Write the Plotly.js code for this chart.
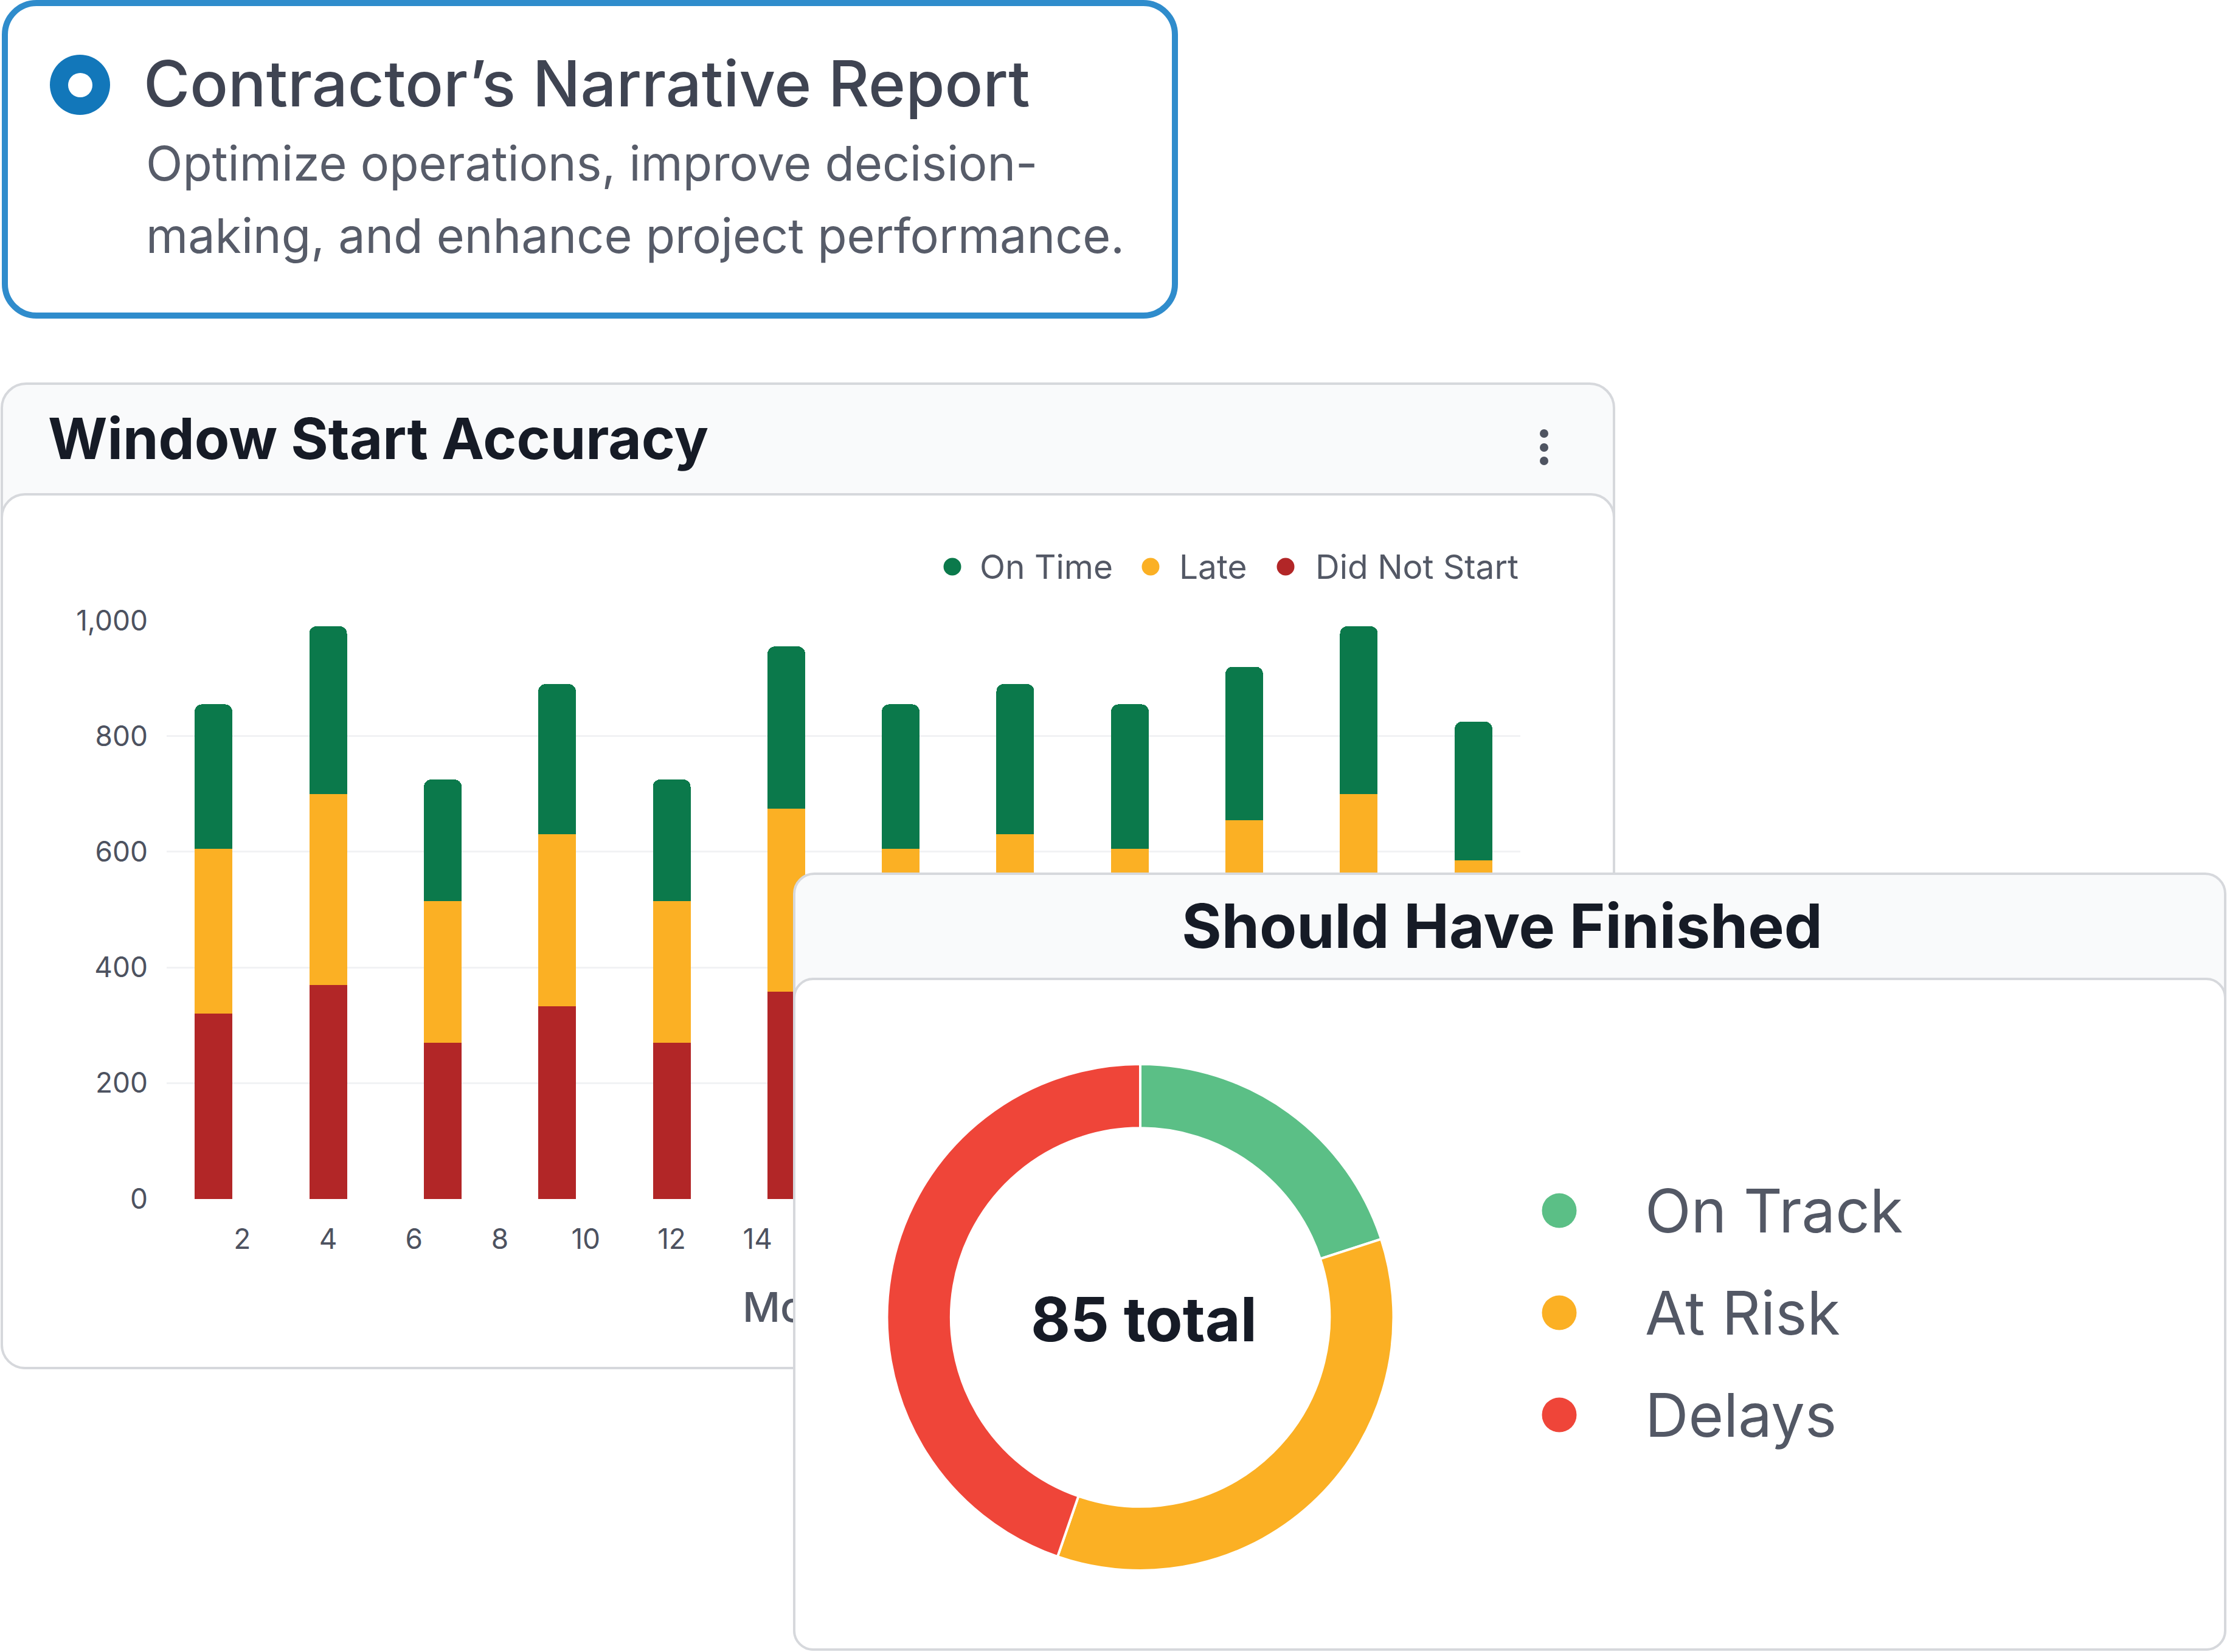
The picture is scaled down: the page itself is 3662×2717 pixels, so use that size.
<!DOCTYPE html>
<html>
<head>
<meta charset="utf-8">
<script src="https://cdn.plot.ly/plotly-3.0.1.min.js"></script>
<style>
html,body{margin:0;padding:0;background:#ffffff;}
#page{position:relative;width:3662px;height:2717px;overflow:hidden;font-family:Inter,"Noto Sans",sans-serif;}
.abs{position:absolute;box-sizing:border-box;}
.txt{position:absolute;white-space:nowrap;line-height:1;}
</style>
</head>
<body>
<div id="page">
  <!-- top card -->
  <div class="abs" style="left:3px;top:0px;width:1934px;height:524px;border:10px solid #2f8ccc;border-radius:57px;background:#fff;"></div>
  <div class="abs" style="left:82px;top:90px;width:99px;height:99px;border-radius:50%;background:#1277ba;"></div>
  <div class="abs" style="left:111.5px;top:119.5px;width:40px;height:40px;border-radius:50%;background:#fff;"></div>
  <div id="mainTitle" class="txt" style="left:236px;top:85px;font-size:104px;font-weight:500;color:#3f4452;"></div>
  <div id="mainSub1" class="txt" style="left:240px;top:229px;font-size:79px;font-weight:400;color:#575c69;"></div>
  <div id="mainSub2" class="txt" style="left:240px;top:348px;font-size:79px;font-weight:400;color:#575c69;"></div>

  <!-- bar card -->
  <div class="abs" style="left:1px;top:629px;width:2655px;height:1623px;border:4px solid #d6d8dc;border-radius:42px;background:#f9fafb;"></div>
  <div class="abs" style="left:1px;top:811px;width:2655px;height:1441px;border:4px solid #d6d8dc;border-radius:40px;background:#ffffff;"></div>
  <div id="barTitle" class="txt" style="left:79px;top:674px;font-size:94px;font-weight:700;color:#161b26;"></div>
  <div class="abs" style="left:2531.7px;top:705.7px;width:14.6px;height:14.6px;border-radius:50%;background:#4f5461;"></div>
  <div class="abs" style="left:2531.7px;top:728.7px;width:14.6px;height:14.6px;border-radius:50%;background:#4f5461;"></div>
  <div class="abs" style="left:2531.7px;top:750.7px;width:14.6px;height:14.6px;border-radius:50%;background:#4f5461;"></div>

  <div id="barChart" class="abs" style="left:0;top:0;width:3662px;height:2717px;"></div>

  <!-- donut card -->
  <div class="abs" style="left:1304px;top:1435px;width:2357px;height:1280px;border:4px solid #d6d8dc;border-radius:35px;background:#f9fafb;"></div>
  <div class="abs" style="left:1304px;top:1608px;width:2357px;height:1107px;border:4px solid #d6d8dc;border-radius:33px;background:#ffffff;"></div>
  <div id="donutTitle" class="txt" style="left:1304px;width:2332px;text-align:center;top:1473px;font-size:100px;font-weight:700;color:#161b26;"></div>

  <div id="donutChart" class="abs" style="left:1304px;top:1435px;width:2357px;height:1280px;"></div>
</div>

<script>
// ---------- text ----------
const mainTitle = "Contractor\u2019s Narrative Report";
const mainSubtitleLines = ["Optimize operations, improve decision-", "making, and enhance project performance."];
const barChartTitle = "Window Start Accuracy";
const donutChartTitle = "Should Have Finished";

// ---------- bar chart data ----------
const monthX = [1.33, 4, 6.67, 9.33, 12, 14.67, 17.33, 20, 22.67, 25.33, 28, 30.67];
const didNotStart = [320, 370, 270, 333, 270, 358, 320, 333, 320, 345, 370, 310];
const late        = [285, 330, 245, 297, 245, 317, 285, 297, 285, 310, 330, 275];
const onTime      = [250, 290, 210, 260, 210, 280, 250, 260, 250, 265, 290, 240];
const seriesNames = ["On Time", "Late", "Did Not Start"];
const xTickVals = [2, 4, 6, 8, 10, 12, 14, 16, 18, 20, 22, 24, 26, 28, 30];
const yTickVals = [0, 200, 400, 600, 800, 1000];
const xAxisTitle = "Month";

// ---------- donut data ----------
const statusLabels = ["On Track", "At Risk", "Delays"];
const statusValues = [17, 30, 38];

// ---------- styles ----------
const barColors = {"On Time": "#0b794b", "Late": "#fbb024", "Did Not Start": "#b22627"};
const statusColors = ["#5bbf86", "#fbb024", "#ef4539"];
const axisTextColor = "#4d5260";
const legendTextColor = "#535865";
const FONT = "Inter, 'Noto Sans', sans-serif";

document.getElementById("mainTitle").textContent = mainTitle;
document.getElementById("mainSub1").textContent = mainSubtitleLines[0];
document.getElementById("mainSub2").textContent = mainSubtitleLines[1];
document.getElementById("barTitle").textContent = barChartTitle;
document.getElementById("donutTitle").textContent = donutChartTitle;

// ---------- bar chart ----------
const W = 3662, H = 2717;
const plotL = 274, plotR = 2500, plotT = 1020, plotB = 1972;
const px2x = px => (px - plotL) / (plotR - plotL);
const py2y = py => (plotB - py) / (plotB - plotT);

const seriesData = {"On Time": onTime, "Late": late, "Did Not Start": didNotStart};
const stackOrder = ["Did Not Start", "Late", "On Time"];
const barTraces = stackOrder.map(name => ({
  type: "bar", name: name, x: monthX, y: seriesData[name],
  marker: {color: barColors[name], line: {width: 0}},
  hoverinfo: "skip"
}));

const legendDotX = [1566, 1892, 2114];
const legendTextX = [1609, 1937, 2161];
const legendY = 932;
const barShapes = seriesNames.map((n, i) => ({
  type: "circle", xref: "paper", yref: "paper",
  xsizemode: "pixel", ysizemode: "pixel",
  xanchor: px2x(legendDotX[i]), yanchor: py2y(legendY),
  x0: -14.5, x1: 14.5, y0: -14.5, y1: 14.5,
  fillcolor: barColors[n], line: {width: 0}
}));
const barAnnotations = seriesNames.map((n, i) => ({
  xref: "paper", yref: "paper", x: px2x(legendTextX[i]), y: py2y(legendY),
  xanchor: "left", yanchor: "middle", showarrow: false, text: n,
  font: {family: FONT, size: 55, color: legendTextColor}
}));
barAnnotations.push({
  xref: "paper", yref: "paper", x: px2x(1219), y: py2y(2149),
  xanchor: "left", yanchor: "middle", showarrow: false, text: xAxisTitle,
  font: {family: FONT, size: 68, color: legendTextColor, weight: 500}
});

Plotly.newPlot("barChart", barTraces, {
  width: W, height: H,
  margin: {l: plotL, r: W - plotR, t: plotT, b: H - plotB, pad: 0},
  paper_bgcolor: "rgba(0,0,0,0)", plot_bgcolor: "rgba(0,0,0,0)",
  barmode: "stack", bargap: 0.67, barcornerradius: 12,
  showlegend: false,
  font: {family: FONT, color: axisTextColor, size: 46},
  xaxis: {range: [0.24, 31.76], tickmode: "array", tickvals: xTickVals, showgrid: false, zeroline: false,
          showline: false, ticks: "", ticklabelstandoff: 35, tickfont: {size: 46, color: axisTextColor}},
  yaxis: {range: [-0.5, 1000.5], tickmode: "array", tickvals: yTickVals, tickformat: ",d", showgrid: true,
          gridcolor: "#f1f2f4", gridwidth: 3, zeroline: false, showline: false, ticks: "",
          ticklabelstandoff: 30, tickfont: {size: 46, color: axisTextColor}},
  shapes: barShapes,
  annotations: barAnnotations
}, {staticPlot: true, displayModeBar: false});

// ---------- donut chart ----------
const dL = 1304, dT = 1435, dW = 2357, dH = 1280;
const dx = px => (px - dL) / dW;
const dy = py => (dT + dH - py) / dH;
const cx = 1875, cy = 2166.5, R = 416.5;
const total = statusValues.reduce((a, b) => a + b, 0);

const dotX = 2564, textX = 2703, rowY = [1991, 2159, 2327];
const donutShapes = statusLabels.map((l, i) => ({
  type: "circle", xref: "paper", yref: "paper",
  xsizemode: "pixel", ysizemode: "pixel",
  xanchor: dx(dotX), yanchor: dy(rowY[i]),
  x0: -28.5, x1: 28.5, y0: -28.5, y1: 28.5,
  fillcolor: statusColors[i], line: {width: 0}
}));
const donutAnn = statusLabels.map((l, i) => ({
  xref: "paper", yref: "paper", x: dx(textX), y: dy(rowY[i]),
  xanchor: "left", yanchor: "middle", showarrow: false, text: l,
  font: {family: FONT, size: 99, color: legendTextColor}
}));
donutAnn.push({
  xref: "paper", yref: "paper", x: dx(1881), y: dy(2169),
  xanchor: "center", yanchor: "middle", showarrow: false, text: total + " total",
  font: {family: FONT, size: 100, color: "#161b26", weight: 700}
});

Plotly.newPlot("donutChart", [{
  type: "pie", labels: statusLabels, values: statusValues,
  marker: {colors: statusColors, line: {color: "#ffffff", width: 4}},
  hole: 0.747, sort: false, direction: "clockwise", rotation: 0,
  textinfo: "none", hoverinfo: "skip", showlegend: false,
  domain: {x: [dx(cx - R), dx(cx + R)], y: [dy(cy + R), dy(cy - R)]}
}], {
  width: dW, height: dH,
  margin: {l: 0, r: 0, t: 0, b: 0, pad: 0},
  paper_bgcolor: "rgba(0,0,0,0)", plot_bgcolor: "rgba(0,0,0,0)",
  showlegend: false,
  shapes: donutShapes,
  annotations: donutAnn
}, {staticPlot: true, displayModeBar: false});
</script>
</body>
</html>
